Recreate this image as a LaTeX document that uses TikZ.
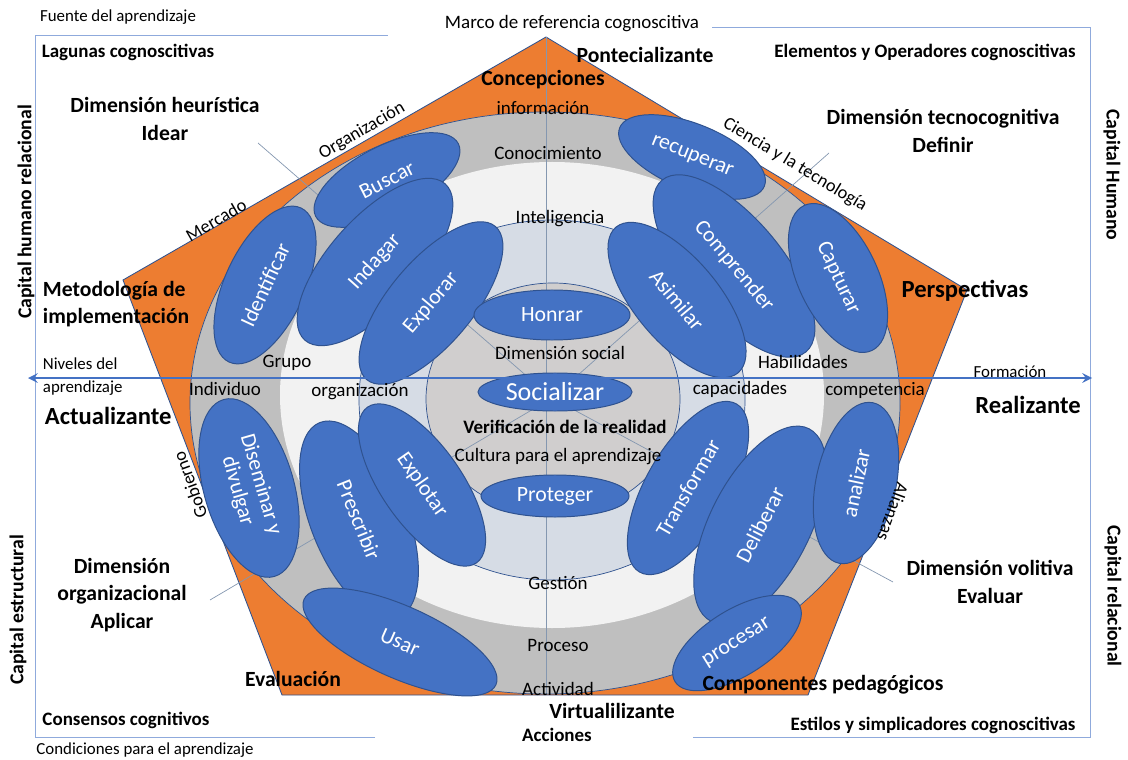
\documentclass[tikz,border=0pt]{standalone}
\usepackage{fontspec}
\setmainfont{Carlito}
\usetikzlibrary{shapes.geometric}
\definecolor{naranja}{HTML}{ED7D31}
\definecolor{azul}{HTML}{4472C4}
\definecolor{azulosc}{HTML}{2F528F}
\definecolor{gris}{HTML}{BFBFBF}
\definecolor{claro}{HTML}{F2F2F2}
\definecolor{celeste}{HTML}{D6DCE5}
\definecolor{grisint}{HTML}{D0CECE}
\definecolor{marco}{HTML}{8FAADC}
\definecolor{radio}{HTML}{8497B0}
\newcommand{\tam}[2]{\fontsize{#1}{#2}\selectfont}
\tikzset{
  ovalo/.style={ellipse, fill=azul, draw=azulosc, line width=0.7pt, text=white, inner sep=0pt, align=center, font=\tam{15.5}{17}},
  anillo/.style={font=\tam{13.5}{16}},
  chica/.style={font=\tam{12}{16.4}},
  esquina/.style={font=\bfseries\tam{13.5}{16}},
  dim/.style={font=\bfseries\tam{15.4}{19.6}, align=center},
  grande/.style={font=\bfseries\tam{17.5}{21}},
  capital/.style={font=\bfseries\tam{14}{16}},
  borde/.style={font=\tam{13}{15}},
}
\begin{document}
\begin{tikzpicture}[x=0.025cm, y=-0.025cm, >=stealth]
	\useasboundingbox (0,0) rectangle (1128,760);
	\path
	(546,37) coordinate (P1)
	(967,290) coordinate (P2)
	(808,695) coordinate (P3)
	(282,695) coordinate (P4)
	(123,280) coordinate (P5)
	(546,695) coordinate (Pb)
	(552,398) coordinate (O)
	(258,143) coordinate (A)
	(829,153) coordinate (B)
	(210,600) coordinate (C)
	(893,582) coordinate (D)
	(28,378) coordinate (izq)
	(1092,378) coordinate (der)
	(35,35) coordinate (m1)
	(388,35) coordinate (m2)
	(712,27) coordinate (m3)
	(1090,27) coordinate (m4)
	(1090,737) coordinate (m5)
	(693,737) coordinate (m6)
	(375,737) coordinate (m7)
	(35,737) coordinate (m8)
	;
	\draw[marco, line width=0.6pt] (m1)--(m2) (m3)--(m4)--(m5)--(m6) (m7)--(m8)--(m1);
	\draw[fill=naranja, draw=azulosc, line width=0.6pt] (P1)--(P2)--(P3)--(P4)--(P5)--cycle;
	\draw[fill=gris, draw=azulosc, line width=0.5pt] (545,403) ellipse [x radius=355, y radius=291];
	\fill[claro] (552,395) ellipse [x radius=272, y radius=233];
	\draw[fill=celeste, draw=azulosc, line width=0.5pt] (552,400) ellipse [x radius=193, y radius=180];
	\draw[fill=grisint, draw=azulosc, line width=0.5pt] (553,399) ellipse [x radius=127, y radius=116];
	\foreach \p in {A,B,C,D}\draw[radio, line width=0.5pt] (\p)--(O);
	\draw[radio, line width=0.5pt] (P1)--(Pb);
	\foreach \n/\x/\y/\w/\h/\r/\t in {
		buscar/387/180/4.0/1.7/27/Buscar,
		identificar/265/285/4.25/2.0/65/Identificar,
		indagar/375/262/5.25/2.25/48/Indagar,
		explorar/431/303/5.0/2.1/50/Explorar,
		honrar/552/315/3.9/1.25/0/Honrar,
		proteger/555/496/3.7/1.05/0/Proteger,
		recuperar/692/157/3.9/1.65/-22/recuperar,
		comprender/734/266/5.6/2.4/-50/Comprender,
		asimilar/677/300/4.75/2.1/-50/Asimilar,
		capturar/838/278/4.0/2.0/-65/Capturar,
		diseminar/249/488/4.6/2.25/-74/{Diseminar y\\divulgar},
		prescribir/359/520/5.25/2.4/-68/Prescribir,
		explotar/422/485/4.75/2.0/-55/Explotar,
		usar/400/642/5.25/1.8/-24/Usar,
		transformar/688/488/4.85/2.1/60/Transformar,
		deliberar/760/525/5.4/2.5/63/Deliberar,
		analizar/856/483/4.1/2.0/78/analizar,
		procesar/737/643/3.65/1.65/32/procesar}
	\node[ovalo, minimum width=\w cm, minimum height=\h cm, rotate=\r] (\n) at (\x,\y) {\t};
	\node[ovalo, minimum width=3.85cm, minimum height=0.95cm, font=\tam{18.5}{20}] (socializar) at (555,392) {Socializar};
	\draw[<->, azul, line width=2pt] (izq)--(der);
	\foreach \t/\x/\y [count=\i] in {
		información/543/108, Conocimiento/548/153, Inteligencia/560/219,
		Dimensión social/560/353, Cultura para el aprendizaje/558/457,
		Gestión/558/583, Proceso/558/645, Actividad/558/689,
		Grupo/287/363, Individuo/225/389, organización/360/392,
		Habilidades/803/362, capacidades/740/389, competencia/875/390}
	\node[anillo] (r\i) at (\x,\y) {\t};
	\node[esquina] (verif) at (565,427) {Verificación de la realidad};
	\node[chica] (fuente) at (118,17) {Fuente del aprendizaje};
	\node[anillo] (marcoref) at (572,24) {Marco de referencia cognoscitiva};
	\node[chica] (condic) at (145,750) {Condiciones para el aprendizaje};
	\node[esquina] (lagunas) at (128,52) {Lagunas cognoscitivas};
	\node[esquina] (elementos) at (925,52) {Elementos y Operadores cognoscitivas};
	\node[esquina] (consensos) at (126,720) {Consensos cognitivos};
	\node[esquina] (estilos) at (933,725) {Estilos y simplicadores cognoscitivas};
	\node[esquina] (acciones) at (557,735) {Acciones};
	\node[capital, rotate=90] (caphr) at (26,212) {Capital humano relacional};
	\node[capital, rotate=-90] (caph) at (1112,175) {Capital Humano};
	\node[capital, rotate=90] (cape) at (18,610) {Capital estructural};
	\node[capital, rotate=-90] (capr) at (1113,596) {Capital relacional};
	\node[dim] (heur) at (165,119) {Dimensión heurística\\Idear};
	\node[dim] (tecno) at (943,131) {Dimensión tecnocognitiva\\Definir};
	\node[dim] (organiz) at (122,595) {Dimensión\\organizacional\\Aplicar};
	\node[dim] (volit) at (990,582) {Dimensión volitiva\\Evaluar};
	\node[dim, anchor=west, align=left] (metod) at (38,304) {Metodología de\\implementación};
	\node[dim] (potenc) at (645,55) {Pontecializante};
	\node[dim] (concep) at (543,80) {Concepciones};
	\node[dim] (evalu) at (293,679) {Evaluación};
	\node[dim] (compon) at (823,685) {Componentes pedagógicos};
	\node[dim] (virtual) at (612,711) {Virtualilizante};
	\node[grande] (persp) at (965,291) {Perspectivas};
	\node[grande, anchor=west] (actual) at (40,416) {Actualizante};
	\node[grande] (realiz) at (1028,405) {Realizante};
	\node[chica, anchor=west, align=left] (niveles) at (38,377) {Niveles del\\aprendizaje};
	\node[chica] (formac) at (1010,372) {Formación};
	\node[borde, rotate=30] (org) at (362,131) {Organización};
	\node[borde, rotate=30] (merc) at (216,220) {Mercado};
	\node[borde, rotate=-31] (ciencia) at (795,165) {Ciencia y la tecnología};
	\node[borde, rotate=110] (gob) at (190,485) {Gobierno};
	\node[borde, rotate=-110] (alianz) at (893,512) {Alianzas};
\end{tikzpicture}
\end{document}
